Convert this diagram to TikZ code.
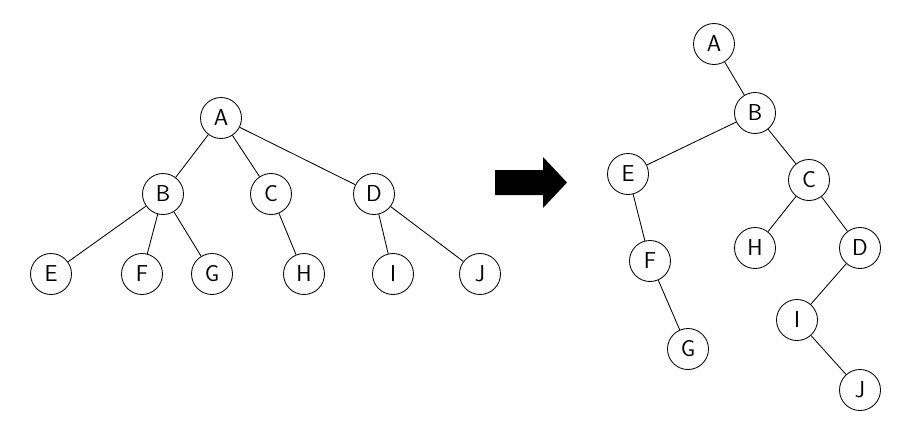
\documentclass[tikz,border=0pt]{standalone}
\usepackage{fontspec}
\begin{document}
\begin{tikzpicture}[x=1pt,y=-1pt,
  tn/.style={circle,draw,line width=0.85pt,minimum size=41pt,inner sep=0pt,font=\sffamily\fontsize{23}{25}\selectfont},
  edge/.style={line width=0.85pt}]
\useasboundingbox (0,0) rectangle (919,432);
% left tree
\node[tn] (A) at (221,118) {A};
\node[tn] (B) at (163,194) {B};
\node[tn] (C) at (271,194) {C};
\node[tn] (D) at (374,194) {D};
\node[tn] (E) at (51,274) {E};
\node[tn] (F) at (142,274) {F};
\node[tn] (G) at (212,274) {G};
\node[tn] (H) at (304,274) {H};
\node[tn] (I) at (393,274) {I};
\node[tn] (J) at (480,274) {J};
\draw[edge] (A) -- (B) (A) -- (C) (A) -- (D)
  (B) -- (E) (B) -- (F) (B) -- (G) (C) -- (H) (D) -- (I) (D) -- (J);
% arrow
\fill (495,170) -- (543,170) -- (543,157) -- (567,182.5) -- (543,208) -- (543,195) -- (495,195) -- cycle;
% right tree
\node[tn] (rA) at (714,44) {A};
\node[tn] (rB) at (755,113) {B};
\node[tn] (rE) at (628,174) {E};
\node[tn] (rC) at (809,180) {C};
\node[tn] (rF) at (650,261) {F};
\node[tn] (rH) at (755,248) {H};
\node[tn] (rD) at (860,248) {D};
\node[tn] (rG) at (688,349) {G};
\node[tn] (rI) at (797,320) {I};
\node[tn] (rJ) at (860,390) {J};
\draw[edge] (rA) -- (rB) (rB) -- (rE) (rB) -- (rC) (rE) -- (rF) (rF) -- (rG)
  (rC) -- (rH) (rC) -- (rD) (rD) -- (rI) (rI) -- (rJ);
\end{tikzpicture}
\end{document}
